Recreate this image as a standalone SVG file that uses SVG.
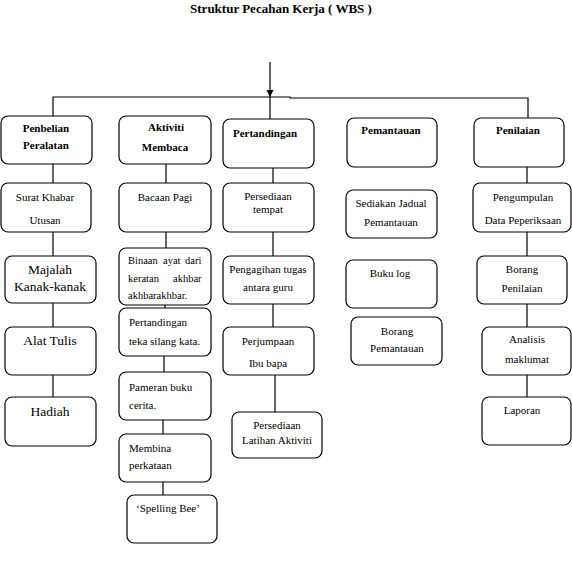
<svg xmlns="http://www.w3.org/2000/svg" width="572" height="573" viewBox="0 0 572 573">
<defs>
<style>
.b{fill:#fff;stroke:#000;stroke-width:1.2}
.c{stroke:#000;stroke-width:1.2;fill:none}
text{font-family:"Liberation Serif","Times New Roman",serif;fill:#000}
.h{font-size:11px;font-weight:bold;text-anchor:middle}
.t{font-size:11px;text-anchor:middle}
.l{font-size:11px}
.s{font-size:10.5px}
.g{font-size:13.5px;text-anchor:middle}
</style>
<marker id="ah" viewBox="0 0 10 10" refX="10" refY="5" markerWidth="7" markerHeight="8" markerUnits="userSpaceOnUse" orient="auto"><path d="M0,0L10,5L0,10z" fill="#000"/></marker>
</defs>
<rect width="572" height="573" fill="#fff"/>
<text x="281" y="13" style="font-size:13px;font-weight:bold;text-anchor:middle">Struktur Pecahan Kerja ( WBS )</text>
<g id="connectors">
<line class="c" x1="270" y1="62" x2="270" y2="97" stroke-width="2" marker-end="url(#ah)"/>
<polyline class="c" points="53,116 53,97 290,97 290,98 528,98 528,118"/>
<line class="c" x1="270" y1="97" x2="270" y2="119"/>
<line class="c" x1="53" y1="164" x2="53" y2="183"/>
<line class="c" x1="53" y1="232" x2="53" y2="256"/>
<line class="c" x1="53" y1="303" x2="53" y2="327"/>
<line class="c" x1="53" y1="375" x2="53" y2="397"/>
<line class="c" x1="166" y1="164" x2="166" y2="183"/>
<line class="c" x1="166" y1="232" x2="166" y2="248"/>
<line class="c" x1="165" y1="305" x2="165" y2="308"/>
<line class="c" x1="164" y1="356" x2="164" y2="372"/>
<line class="c" x1="163" y1="420" x2="163" y2="434"/>
<line class="c" x1="163" y1="482" x2="163" y2="495"/>
<line class="c" x1="273" y1="168" x2="273" y2="183"/>
<line class="c" x1="273" y1="232" x2="273" y2="256"/>
<line class="c" x1="273" y1="304" x2="273" y2="327"/>
<line class="c" x1="275" y1="375" x2="275" y2="412"/>
<line class="c" x1="527" y1="167" x2="527" y2="183"/>
<line class="c" x1="527" y1="232" x2="527" y2="256"/>
<line class="c" x1="527" y1="304" x2="527" y2="327"/>
<line class="c" x1="527" y1="375" x2="527" y2="397"/>
</g>
<g id="penbelian"><rect class="b" x="1" y="116" width="91" height="48" rx="7"/><text class="h" x="46" y="132">Penbelian</text><text class="h" x="46" y="149">Peralatan</text></g>
<g id="aktiviti"><rect class="b" x="119" y="116" width="92" height="48" rx="7"/><text class="h" x="166" y="131">Aktiviti</text><text class="h" x="165" y="151">Membaca</text></g>
<g id="pertandingan"><rect class="b" x="223" y="119" width="91" height="49" rx="7"/><text class="h" x="265" y="137">Pertandingan</text></g>
<g id="pemantauan"><rect class="b" x="347" y="118" width="90" height="49" rx="7"/><text class="h" x="391" y="134">Pemantauan</text></g>
<g id="penilaian"><rect class="b" x="474" y="118" width="90" height="49" rx="7"/><text class="h" x="518" y="134">Penilaian</text></g>

<g id="surat"><rect class="b" x="1" y="183" width="90" height="49" rx="7"/><text class="t" x="45" y="201">Surat Khabar</text><text class="t" x="45" y="224">Utusan</text></g>
<g id="majalah"><rect class="b" x="5" y="256" width="91" height="47" rx="7"/><text class="g" x="50" y="274">Majalah</text><text class="g" x="50" y="291">Kanak-kanak</text></g>
<g id="alat"><rect class="b" x="5" y="327" width="91" height="48" rx="7"/><text class="g" x="50" y="345">Alat Tulis</text></g>
<g id="hadiah"><rect class="b" x="5" y="397" width="91" height="49" rx="7"/><text class="g" x="50" y="416">Hadiah</text></g>

<g id="bacaan"><rect class="b" x="119" y="183" width="92" height="49" rx="7"/><text class="t" x="165" y="201">Bacaan Pagi</text></g>
<g id="binaan"><rect class="b" x="119" y="248" width="92" height="57" rx="7"/><text class="s" y="264"><tspan x="128">Binaan</tspan><tspan x="163">ayat</tspan><tspan x="185">dari</tspan></text><text class="s" y="282"><tspan x="128">keratan</tspan><tspan x="173">akhbar</tspan></text><text class="s" x="128" y="299">akhbarakhbar.</text></g>
<g id="teka"><rect class="b" x="119" y="308" width="92" height="48" rx="7"/><text class="l" x="129" y="326">Pertandingan</text><text class="l" x="129" y="345">teka silang kata.</text></g>
<g id="pameran"><rect class="b" x="119" y="372" width="92" height="48" rx="7"/><text class="l" x="129" y="391">Pameran buku</text><text class="l" x="129" y="409">cerita.</text></g>
<g id="membina"><rect class="b" x="119" y="434" width="92" height="48" rx="7"/><text class="l" x="129" y="452">Membina</text><text class="l" x="129" y="469">perkataan</text></g>
<g id="spelling"><rect class="b" x="127" y="495" width="90" height="48" rx="7"/><text class="t" x="168" y="512">‘Spelling Bee’</text></g>

<g id="tempat"><rect class="b" x="223" y="183" width="91" height="49" rx="7"/><text class="t" x="268" y="200">Persediaan</text><text class="t" x="268" y="213">tempat</text></g>
<g id="pengagihan"><rect class="b" x="223" y="256" width="91" height="48" rx="7"/><text class="t" x="268" y="273">Pengagihan tugas</text><text class="t" x="268" y="291">antara guru</text></g>
<g id="perjumpaan"><rect class="b" x="223" y="327" width="91" height="48" rx="7"/><text class="t" x="268" y="345">Perjumpaan</text><text class="t" x="268" y="367">Ibu bapa</text></g>
<g id="latihan"><rect class="b" x="232" y="412" width="90" height="46" rx="7"/><text class="t" x="277" y="429">Persediaan</text><text class="t" x="277" y="444">Latihan Aktiviti</text></g>

<g id="sediakan"><rect class="b" x="346" y="190" width="91" height="48" rx="7"/><text class="t" x="391" y="207">Sediakan Jadual</text><text class="t" x="391" y="226">Pemantauan</text></g>
<g id="bukulog"><rect class="b" x="346" y="260" width="91" height="48" rx="7"/><text class="t" x="390" y="277">Buku log</text></g>
<g id="borangp"><rect class="b" x="351" y="317" width="91" height="48" rx="7"/><text class="t" x="397" y="335">Borang</text><text class="t" x="397" y="352">Pemantauan</text></g>

<g id="pengumpulan"><rect class="b" x="473" y="183" width="98" height="49" rx="7"/><text class="t" x="523" y="201">Pengumpulan</text><text class="t" x="523" y="224">Data Peperiksaan</text></g>
<g id="borangn"><rect class="b" x="477" y="256" width="90" height="48" rx="7"/><text class="t" x="522" y="273">Borang</text><text class="t" x="522" y="292">Penilaian</text></g>
<g id="analisis"><rect class="b" x="482" y="327" width="89" height="48" rx="7"/><text class="t" x="527" y="343">Analisis</text><text class="t" x="527" y="363">maklumat</text></g>
<g id="laporan"><rect class="b" x="482" y="397" width="89" height="48" rx="7"/><text class="t" x="522" y="414">Laporan</text></g>
</svg>
